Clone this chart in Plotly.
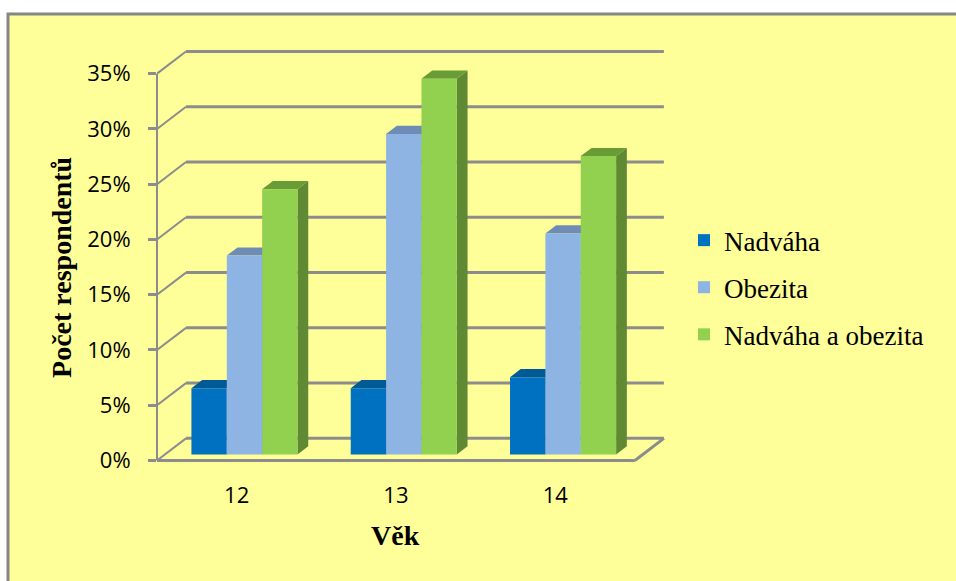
import plotly.graph_objects as go

# Survey results by age, in percent of respondents
ages = ["12", "13", "14"]
nadvaha = [6, 6, 7]
obezita = [18, 29, 20]
nadvaha_obezita = [24, 34, 27]
y_ticks = [0, 5, 10, 15, 20, 25, 30, 35]

series_names = ["Nadváha", "Obezita", "Nadváha a obezita"]
series_values = [nadvaha, obezita, nadvaha_obezita]
front_colors = ["#0070C0", "#8DB4E2", "#92D050"]
top_colors = ["#005A96", "#6F8DB4", "#699B37"]
side_colors = ["#004F85", "#5F7FA8", "#5F8A33"]

GRID = "#8C8C8C"
TEXT_SANS = "Open Sans"
TEXT_SERIF = "Liberation Serif"

# Oblique projection: one unit of depth moves a point right and up
DEPTH_X = 0.182   # category units
DEPTH_Y = 2.0     # percent units
BAR_NEAR = 0.27   # depth of a bar's front face
BAR_FAR = 0.64    # depth of a bar's back face
BAR_W = 0.222
X_MAX = 3.2141
Y_MIN = -0.5
Y_MAX = 37.5

# Pixel box of the plot area; annotations and the legend are placed relative to it
LEFT, RIGHT, TOP, BOTTOM = 157, 669, 45.5, 466.5


def paper_x(px):
    return (px - LEFT) / (RIGHT - LEFT)


def paper_y(px):
    return (BOTTOM - px) / (BOTTOM - TOP)


def poly(points, fill):
    path = "M" + " L".join(f"{x:.4f},{y:.4f}" for x, y in points) + " Z"
    return dict(type="path", xref="x", yref="y", path=path, fillcolor=fill,
                line=dict(width=0), layer="below")


def line(x0, y0, x1, y1, width=2.5):
    return dict(type="line", xref="x", yref="y", x0=x0, y0=y0, x1=x1, y1=y1,
                line=dict(color=GRID, width=width), layer="below")


shapes = [
    # chart area with its grey frame
    dict(type="rect", xref="paper", yref="paper",
         x0=paper_x(8), x1=paper_x(1100), y0=paper_y(800), y1=paper_y(13.5),
         fillcolor="#FFFF99", line=dict(color="#868686", width=3), layer="below"),
]

# Floor outline, back wall gridlines and the slanted wall edges
n_cat = len(ages)
for t in y_ticks:
    shapes.append(line(0, t, DEPTH_X, t + DEPTH_Y, 2))
    shapes.append(line(DEPTH_X, t + DEPTH_Y, n_cat + DEPTH_X, t + DEPTH_Y, 3))
shapes.append(line(0, 0, n_cat, 0, 3))
shapes.append(line(n_cat, 0, n_cat + DEPTH_X, DEPTH_Y, 3))
# value axis, pinned to the plot's left edge
shapes.append(dict(type="line", xref="paper", yref="y", x0=0, x1=0, y0=0, y1=y_ticks[-1],
                   line=dict(color=GRID, width=2), layer="below"))

fig = go.Figure()

# Front faces are bars; the top and side faces are projected from the same values
centers = [i + 0.5 + BAR_NEAR * DEPTH_X for i in range(n_cat)]
base_near = BAR_NEAR * DEPTH_Y
base_far = BAR_FAR * DEPTH_Y
reach_x = (BAR_FAR - BAR_NEAR) * DEPTH_X
for s, values in enumerate(series_values):
    offset = (s - 1.5) * BAR_W
    for c, v in zip(centers, values):
        left = c + offset
        right = left + BAR_W
        shapes.append(poly([(right, base_near), (right + reach_x, base_far),
                            (right + reach_x, v + base_far), (right, v + base_near)],
                           side_colors[s]))
        shapes.append(poly([(left, v + base_near), (right, v + base_near),
                            (right + reach_x, v + base_far), (left + reach_x, v + base_far)],
                           top_colors[s]))
    fig.add_trace(go.Bar(
        x=centers, y=values, base=base_near, width=BAR_W, offset=offset,
        name=series_names[s], legendgroup=series_names[s],
        marker=dict(color=front_colors[s], line=dict(width=0)),
    ))

fig.update_layout(
    width=956, height=581,
    margin=dict(l=LEFT, r=956 - RIGHT, t=TOP, b=581 - BOTTOM, autoexpand=False),
    paper_bgcolor="white", plot_bgcolor="rgba(0,0,0,0)",
    barmode="overlay", shapes=shapes, showlegend=True,
    legend=dict(
        x=paper_x(684), y=paper_y(216), xanchor="left", yanchor="top",
        font=dict(family=TEXT_SERIF, size=27, color="black"),
        tracegroupgap=9, bgcolor="rgba(0,0,0,0)", traceorder="grouped",
    ),
    xaxis=dict(
        range=[0, X_MAX], tickmode="array",
        tickvals=[i + 0.5 for i in range(n_cat)], ticktext=ages,
        ticks="", showgrid=False, zeroline=False, showline=False,
        ticklabelstandoff=14,
        tickfont=dict(family=TEXT_SANS, size=22, color="black"),
    ),
    yaxis=dict(
        range=[Y_MIN, Y_MAX], tickmode="array", tickvals=y_ticks,
        ticktext=[f"{t}%" for t in y_ticks],
        ticks="outside", ticklen=8, tickwidth=3, tickcolor=GRID,
        showgrid=False, zeroline=False, showline=False,
        ticklabelstandoff=13,
        tickfont=dict(family=TEXT_SANS, size=22, color="black"),
    ),
    annotations=[
        dict(text="<b>Věk</b>", xref="paper", yref="paper",
             x=paper_x(395), y=paper_y(536), xanchor="center", yanchor="middle",
             showarrow=False, font=dict(family=TEXT_SERIF, size=28, color="black")),
        dict(text="<b>Počet respondentů</b>", xref="paper", yref="paper",
             x=paper_x(62), y=paper_y(268), xanchor="center", yanchor="middle",
             showarrow=False, textangle=-90,
             font=dict(family=TEXT_SERIF, size=28, color="black")),
    ],
)

fig.write_html("out.html")
